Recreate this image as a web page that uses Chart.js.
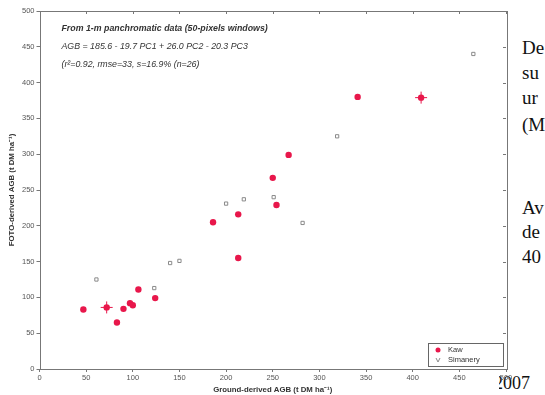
<!DOCTYPE html>
<html>
<head>
<meta charset="utf-8">
<script src="https://cdn.jsdelivr.net/npm/chart.js@4.4.1/dist/chart.umd.min.js"></script>
<style>
  html, body { margin: 0; padding: 0; background: #fff; overflow: hidden; }
  #wrap { position: relative; width: 545px; height: 395px; }
  canvas { position: absolute; left: 0; top: 0; }
  .side { position: absolute; font-family: "Liberation Serif", "DejaVu Serif", serif; font-size: 19px; color: #111; white-space: nowrap; line-height: 1; }
</style>
</head>
<body>
<div id="wrap">
  <div class="side" style="left:522px; top:38px;">De</div>
  <div class="side" style="left:522px; top:63px;">su</div>
  <div class="side" style="left:522px; top:88px;">ur</div>
  <div class="side" style="left:522px; top:115px;">(M</div>
  <div class="side" style="left:522px; top:198px;">Av</div>
  <div class="side" style="left:522px; top:222px;">de</div>
  <div class="side" style="left:522px; top:247px;">40</div>
  <div class="side" style="left:494px; top:374px; font-size:18px;">2007</div>
  <div style="position:absolute; left:0; top:0; width:499px; height:395px; background:#fff;"></div>
  <canvas id="c" width="545" height="395"></canvas>
</div>
<script>
// ---- data ----
const kawX = [47, 72, 83, 90, 97, 100, 106, 124, 186, 213, 213, 254, 250, 267, 341, 409];
const kawY = [83, 86, 65, 84, 92, 89, 111, 99, 205, 216, 155, 229, 267, 299, 380, 379];
const kawCrossIdx = [1, 15];
const simX = [61, 123, 140, 150, 200, 219, 251, 282, 319, 465];
const simY = [125, 113, 148, 151, 231, 237, 240, 204, 325, 440];
const xTicks = [0, 50, 100, 150, 200, 250, 300, 350, 400, 450, 500];
const yTicks = [0, 50, 100, 150, 200, 250, 300, 350, 400, 450, 500];
const seriesNames = ["Kaw", "Simanery"];
const noteLines = [
  "From 1-m panchromatic data (50-pixels windows)",
  "AGB = 185.6 - 19.7 PC1 + 26.0 PC2 - 20.3 PC3",
  "(r\u00B2=0.92, rmse=33, s=16.9% (n=26)"
];
const xTitle = "Ground-derived AGB (t DM ha\u207B\u00B9)";
const yTitle = "FOTO-derived AGB (t DM ha\u207B\u00B9)";

const RED = "#e8174b";
const GREY = "#8a8a8a";

const kawPts = kawX.map((x, i) => ({x, y: kawY[i]}));
const crossPts = kawCrossIdx.map(i => ({x: kawX[i], y: kawY[i]}));
const simPts = simX.map((x, i) => ({x, y: simY[i]}));

const framePlugin = {
  id: 'frame',
  afterDraw(chart) {
    const {ctx, chartArea: a} = chart;
    ctx.save();
    ctx.strokeStyle = '#777';
    ctx.lineWidth = 1;
    ctx.strokeRect(Math.round(a.left) + 0.5, Math.round(a.top) + 0.5, Math.round(a.right - a.left), Math.round(a.bottom - a.top));
    const xs = chart.scales.x, ys = chart.scales.y;
    ctx.beginPath();
    xTicks.forEach(v => { const p = Math.round(xs.getPixelForValue(v)) + 0.5; ctx.moveTo(p, a.top); ctx.lineTo(p, a.top + 3); });
    yTicks.forEach(v => { const p = Math.round(ys.getPixelForValue(v)) + 0.5; ctx.moveTo(a.right, p); ctx.lineTo(a.right - 3, p); });
    ctx.stroke();
    ctx.fillStyle = '#333';
    ctx.textBaseline = 'alphabetic';
    ctx.font = 'italic bold 8.8px "Liberation Sans", Arial, sans-serif';
    ctx.fillText(noteLines[0], a.left + 22, a.top + 20);
    ctx.font = 'italic 8.8px "Liberation Sans", Arial, sans-serif';
    ctx.fillText(noteLines[1], a.left + 22, a.top + 38);
    ctx.fillText(noteLines[2], a.left + 22, a.top + 56);
    const lx = a.right - 78, ly = a.bottom - 26, lw = 75, lh = 23;
    ctx.fillStyle = '#fff';
    ctx.fillRect(lx, ly, lw, lh);
    ctx.strokeStyle = '#666';
    ctx.strokeRect(Math.round(lx) + 0.5, Math.round(ly) + 0.5, lw, lh);
    ctx.fillStyle = RED;
    ctx.beginPath(); ctx.arc(lx + 10, ly + 7, 2.5, 0, Math.PI * 2); ctx.fill();
    ctx.strokeStyle = GREY;
    ctx.beginPath(); ctx.moveTo(lx + 8, ly + 15); ctx.lineTo(lx + 10, ly + 19); ctx.lineTo(lx + 12, ly + 15); ctx.stroke();
    ctx.fillStyle = '#333';
    ctx.font = '7.5px "Liberation Sans", Arial, sans-serif';
    ctx.textBaseline = 'middle';
    ctx.fillText(seriesNames[0], lx + 20, ly + 7);
    ctx.fillText(seriesNames[1], lx + 20, ly + 17);
    ctx.restore();
  }
};

new Chart(document.getElementById('c'), {
  type: 'scatter',
  data: {
    datasets: [
      { label: seriesNames[0], data: kawPts, pointStyle: 'circle', pointRadius: 3.2, backgroundColor: RED, borderColor: RED, borderWidth: 0 },
      { label: seriesNames[0] + ' err', data: crossPts, pointStyle: 'cross', pointRadius: 6, borderColor: RED, borderWidth: 1, backgroundColor: RED },
      { label: seriesNames[1], data: simPts, pointStyle: 'rect', pointRadius: 2.3, backgroundColor: '#fff', borderColor: GREY, borderWidth: 1 }
    ]
  },
  options: {
    responsive: false,
    animation: false,
    devicePixelRatio: 1,
    layout: { padding: { left: 7, top: 11, right: 39, bottom: 0 } },
    plugins: { legend: { display: false }, tooltip: { enabled: false } },
    scales: {
      x: {
        type: 'linear', min: 0, max: 500,
        afterBuildTicks: s => { s.ticks = xTicks.map(v => ({value: v})); },
        afterFit: s => { s.height = 26; },
        grid: { drawOnChartArea: false, tickLength: 3, color: '#777' },
        border: { display: false },
        ticks: { color: '#555', font: { size: 7.5, family: '"Liberation Sans", Arial, sans-serif' }, padding: 1, maxRotation: 0 },
        title: { display: true, text: xTitle, color: '#333', font: { size: 7.8, weight: 'bold', family: '"Liberation Sans", Arial, sans-serif' }, padding: { top: 1, bottom: 0 } }
      },
      y: {
        type: 'linear', min: 0, max: 500,
        afterBuildTicks: s => { s.ticks = yTicks.map(v => ({value: v})); },
        afterFit: s => { s.width = 32.5; },
        grid: { drawOnChartArea: false, tickLength: 3, color: '#777' },
        border: { display: false },
        ticks: { color: '#555', font: { size: 7.5, family: '"Liberation Sans", Arial, sans-serif' }, padding: 2 },
        title: { display: true, text: yTitle, color: '#333', font: { size: 7.8, weight: 'bold', family: '"Liberation Sans", Arial, sans-serif' }, padding: { top: 0, bottom: 0 } }
      }
    }
  },
  plugins: [framePlugin]
});
</script>
</body>
</html>
